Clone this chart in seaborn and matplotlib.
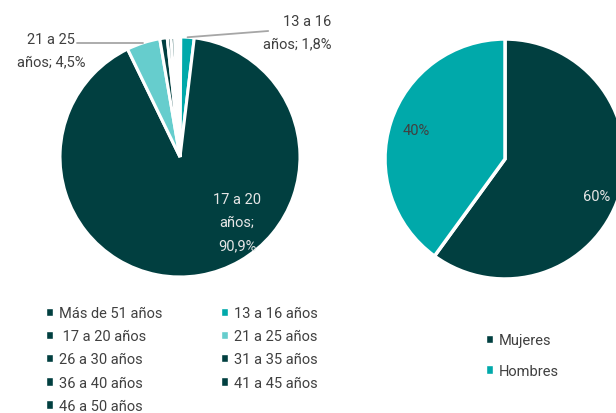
import numpy as np
import seaborn as sns
import matplotlib.pyplot as plt
from matplotlib.patches import Patch

# age groups, in the order the pie draws them (clockwise from 12 o'clock)
edad_labels = ["Más de 51 años", "13 a 16 años", " 17 a 20 años", "21 a 25 años",
               "26 a 30 años", "31 a 35 años", "36 a 40 años", "41 a 45 años",
               "46 a 50 años"]
edad_values = [0.1, 1.8, 90.9, 4.5, 1.0, 0.5, 0.5, 0.4, 0.3]

sexo_labels = ["Mujeres", "Hombres"]
sexo_values = [60, 40]

DARK = "#013f40"
TEAL = "#00a9aa"
LIGHT = "#66cdcd"
TXT = "#404040"

sns.set_theme(style="white")
plt.rcParams['font.family'] = ['Roboto', 'DejaVu Sans']

edad_colors = sns.color_palette([DARK, TEAL, DARK, LIGHT, DARK, DARK, DARK, DARK, DARK])
sexo_colors = sns.color_palette([DARK, TEAL])

FS = 10.5
W, H = 616, 414
fig = plt.figure(figsize=(W / 100, H / 100), dpi=100)

# left pie: age
ax1 = fig.add_axes([60 / W, 136 / H, 240 / W, 240 / H])
wedges, _ = ax1.pie(edad_values, colors=edad_colors, startangle=90,
                    counterclock=False,
                    wedgeprops=dict(edgecolor='white', linewidth=2.2))
ax1.set_xlim(-1, 1)
ax1.set_ylim(-1, 1)


def rim_point(w, r=1.0):
    mid = np.deg2rad((w.theta1 + w.theta2) / 2)
    return r * np.cos(mid), r * np.sin(mid)


# inside label for the big slice
ax1.text(0.475, -0.54, "17 a 20\naños;\n90,9%", ha='center', va='center',
         fontsize=FS, color='#e6e6e6', linespacing=1.82)

# outside labels with leader lines
x0, y0 = rim_point(wedges[1])
ax1.plot([x0, 0.735], [y0, 1.05], color='#a6a6a6', lw=1.3, clip_on=False)
ax1.text(1.26, 1.04, "13 a 16\naños; 1,8%", ha='right', va='center',
         multialignment='right', fontsize=FS, color=TXT, linespacing=1.82)

x0, y0 = rim_point(wedges[3])
ax1.plot([x0, -0.86], [y0, y0], color='#a6a6a6', lw=1.3, clip_on=False)
ax1.text(-1.075, 0.89, "21 a 25\naños; 4,5%", ha='center', va='center',
         fontsize=FS, color=TXT, linespacing=1.82)

# right pie: sex
ax2 = fig.add_axes([385 / W, 134 / H, 240 / W, 240 / H])
w2, _, pcts = ax2.pie(sexo_values, colors=sexo_colors, startangle=90,
                      counterclock=False, autopct='%.0f%%', pctdistance=0.78,
                      wedgeprops=dict(edgecolor='white', linewidth=2.5),
                      textprops=dict(fontsize=FS))
ax2.set_xlim(-1, 1)
ax2.set_ylim(-1, 1)
pcts[0].set_color('#e6e6e6')
pcts[0].set_position((0.76, -0.31))
pcts[1].set_color(TXT)

# legends
order = [0, 2, 4, 6, 8, 1, 3, 5, 7]
h1 = [Patch(facecolor=edad_colors[i], label=edad_labels[i]) for i in order]
fig.legend(handles=h1, loc='upper left', bbox_to_anchor=(46 / W, 1 - 307 / H),
           ncol=2, frameon=False, fontsize=FS, handlelength=0.5,
           handleheight=0.5, handletextpad=0.4, columnspacing=4.0,
           labelspacing=0.63, borderpad=0, borderaxespad=0, labelcolor=TXT)

h2 = [Patch(facecolor=c, label=l) for c, l in zip(sexo_colors, sexo_labels)]
fig.legend(handles=h2, loc='upper left', bbox_to_anchor=(486 / W, 1 - 334 / H),
           frameon=False, fontsize=FS, handlelength=0.5, handleheight=0.5,
           handletextpad=0.4, labelspacing=1.15, borderpad=0,
           borderaxespad=0, labelcolor=TXT)

fig.savefig('out.png', dpi=100)
